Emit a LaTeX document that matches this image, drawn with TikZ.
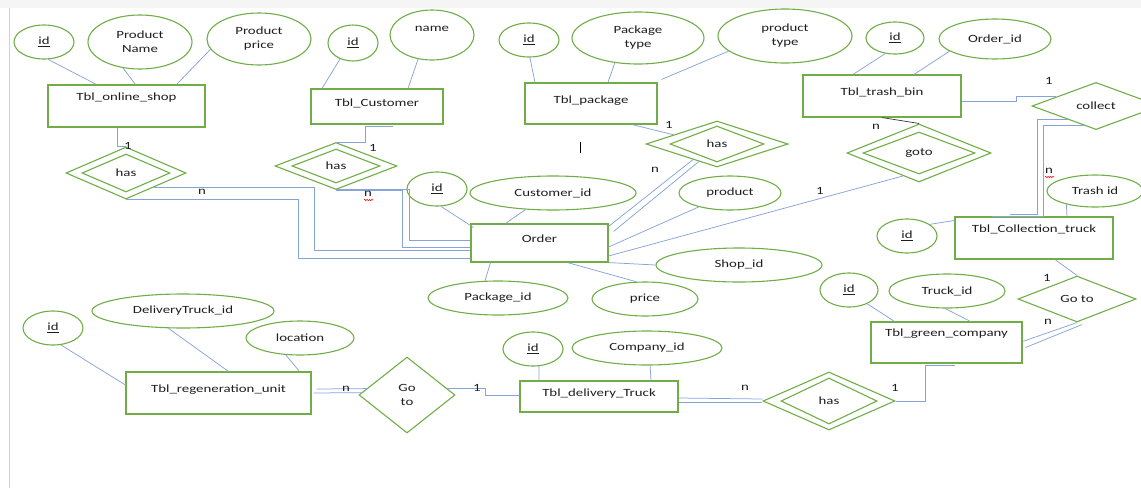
\documentclass[tikz,border=0pt]{standalone}
\usepackage{fontspec}
\setmainfont{Carlito}[FakeStretch=1.35]
\usepackage{tikz}
\usetikzlibrary{shapes.geometric}
\usetikzlibrary{decorations.pathmorphing}

\definecolor{ergreen}{RGB}{112,173,71}
\definecolor{erblue}{RGB}{135,164,218}
\definecolor{ertext}{RGB}{30,30,30}

\tikzset{
  tbl/.style={draw=ergreen, line width=1.1pt, inner sep=0pt, text height=8pt, text depth=9pt},
  tbltop/.style={tbl, text depth=20pt},
  attr/.style={ellipse, draw=ergreen, line width=1.1pt, inner sep=0pt, align=center},
  rel/.style={diamond, draw=ergreen, line width=1.1pt, inner sep=0pt, align=center},
  conn/.style={draw=erblue, line width=0.75pt},
  card/.style={inner sep=0pt},
  typo/.style={red, line width=0.5pt, decorate, decoration={snake, amplitude=0.7pt, segment length=2.4pt}}
}

\begin{document}
\begin{tikzpicture}[x=1pt, y=-1pt, font=\fontsize{11}{14}\selectfont, text=ertext]
                \clip (0,0) rectangle (1141,488);
                % page edge
                \fill[black!4] (0,0) rectangle (1141,8);
                \draw[black!18, line width=1.5pt] (9.5,8) -- (9.5,488);

                % Tbl_online_shop
                \node[tbltop, minimum width=157pt, minimum height=42pt] (shop) at (126.5,106) {Tbl\_online\_shop};
                \node[attr, minimum width=60pt, minimum height=34pt] (shopid) at (44,42) {\underline{id}};
                \node[attr, minimum width=104pt, minimum height=54pt] (pname) at (140,42) {Product\\Name};
                \node[attr, minimum width=104pt, minimum height=52pt] (pprice) at (259,39) {Product\\price};
                \draw[conn] (shopid.-77) -- ([xshift=-30pt]shop.north);
                \draw[conn] (pname.-123) -- ([xshift=9pt]shop.north);
                \draw[conn] (pprice.-168) -- ([xshift=50pt]shop.north);

                % Tbl_Customer
                \node[tbl, minimum width=132pt, minimum height=35pt] (cust) at (377,106.5) {Tbl\_Customer};
                \node[attr, minimum width=50pt, minimum height=36pt] (custid) at (353,43) {\underline{id}};
                \node[attr, minimum width=84pt, minimum height=50pt, text height=8pt, text depth=16pt] (cname) at (432,35) {name};
                \draw[conn] (custid.-129) -- ([xshift=-55pt]cust.north);
                \draw[conn] (cname.-120) -- ([xshift=31pt]cust.north);

                % Tbl_package
                \node[tbl, minimum width=132pt, minimum height=41pt] (pkg) at (591,103.5) {Tbl\_package};
                \node[attr, minimum width=60pt, minimum height=34pt] (pkgid) at (529,40) {\underline{id}};
                \node[attr, minimum width=132pt, minimum height=52pt] (ptype) at (638,38) {Package\\type};
                \node[attr, minimum width=134pt, minimum height=54pt] (prtype) at (785,36) {product\\type};
                \draw[conn] (pkgid.-87) -- ([xshift=-56pt]pkg.north);
                \draw[conn] (ptype.-133) -- ([xshift=17pt]pkg.north);
                \draw[conn] (prtype.-165) -- ([xshift=4pt,yshift=3pt]pkg.north east);
                \draw[black, line width=0.6pt] (580,142) -- (580,153);

                % Tbl_trash_bin
                \node[tbl, minimum width=158pt, minimum height=42pt] (trash) at (882,96) {Tbl\_trash\_bin};
                \node[attr, minimum width=58pt, minimum height=32pt] (trashid) at (895,38) {\underline{id}};
                \node[attr, minimum width=112pt, minimum height=40pt] (orderid) at (995,39) {Order\_id};
                \draw[conn] (trashid.-122) -- ([xshift=-29pt]trash.north);
                \draw[conn] (orderid.-165) -- ([xshift=32pt]trash.north);

                % Order
                \node[tbl, minimum width=137pt, minimum height=38pt] (order) at (539.5,243) {Order};
                \node[attr, minimum width=60pt, minimum height=34pt] (ordid) at (437,189) {\underline{id}};
                \node[attr, minimum width=166pt, minimum height=34pt] (custfk) at (553,193) {Customer\_id};
                \node[attr, minimum width=102pt, minimum height=34pt] (product) at (730,193) {product};
                \node[attr, minimum width=166pt, minimum height=34pt] (shopfk) at (739,265) {Shop\_id};
                \node[attr, minimum width=106pt, minimum height=34pt] (price) at (645,299) {price};
                \node[attr, minimum width=140pt, minimum height=34pt] (pkgfk) at (498,298) {Package\_id};
                \draw[conn] (ordid.-77) -- ([xshift=3pt,yshift=-4pt]order.north west);
                \draw[conn] (custfk.-149) -- ([xshift=-34pt]order.north);
                \draw[conn] (product.-156) -- ([yshift=-4pt]order.east);
                \draw[conn] (shopfk.west) -- (order.south east);
                \draw[conn] (price.117) -- ([xshift=28pt]order.south);
                \draw[conn] (pkgfk.127) -- ([xshift=-49pt]order.south);

                % Tbl_Collection_truck
                \node[tbltop, minimum width=158pt, minimum height=42pt] (ctruck) at (1034,238) {Tbl\_Collection\_truck};
                \node[attr, minimum width=96pt, minimum height=32pt] (trashfk) at (1095,191) {Trash id};
                \node[attr, minimum width=60pt, minimum height=34pt] (ctid) at (907,236) {\underline{id}};
                \draw[conn] (trashfk.-155) -- ([xshift=33pt]ctruck.north);
                \draw[conn] (ctid.27) -- ([yshift=-4pt]ctruck.north west);

                % Tbl_green_company
                \node[tbltop, minimum width=151pt, minimum height=41pt] (green) at (946.5,342.5) {Tbl\_green\_company};
                \node[attr, minimum width=58pt, minimum height=34pt] (gid) at (849,290) {\underline{id}};
                \node[attr, minimum width=116pt, minimum height=34pt] (truckid) at (947,291) {Truck\_id};
                \draw[conn] (gid.-37) -- ([xshift=-52pt]green.north);
                \draw[conn] (truckid.-96) -- ([xshift=24pt]green.north);

                % Tbl_delivery_Truck
                \node[tbl, minimum width=158pt, minimum height=31pt] (dtruck) at (599,396.5) {Tbl\_delivery\_Truck};
                \node[attr, minimum width=60pt, minimum height=34pt] (dtid) at (533,349) {\underline{id}};
                \node[attr, minimum width=150pt, minimum height=34pt] (compid) at (647,348) {Company\_id};
                \draw[conn] (dtid.-71) -- ([xshift=-60pt]dtruck.north);
                \draw[conn] (compid.-80) -- ([xshift=52pt]dtruck.north);

                % Tbl_regeneration_unit
                \node[tbl, minimum width=185pt, minimum height=42pt] (regen) at (218.5,393) {Tbl\_regeneration\_unit};
                \node[attr, minimum width=60pt, minimum height=34pt] (rid) at (53,328) {\underline{id}};
                \node[attr, minimum width=182pt, minimum height=34pt] (dtfk) at (183,311) {DeliveryTruck\_id};
                \node[attr, minimum width=108pt, minimum height=34pt] (loc) at (300,338) {location};
                \draw[conn] (rid.-65) -- ([yshift=8pt]regen.west);
                \draw[conn] (dtfk.-130) -- ([xshift=10pt]regen.north);
                \draw[conn] (loc.-130) -- ([xshift=81pt]regen.north);

                % Relations
                \node[rel, minimum width=120pt, minimum height=52pt] (has1) at (126,173) {};
                \node[rel, minimum width=88pt, minimum height=38pt] (has1in) at (has1) {has};
                \node[rel, minimum width=122pt, minimum height=47pt] (has2) at (336,166) {};
                \node[rel, minimum width=88pt, minimum height=34pt] (has2in) at (has2) {has};
                \node[rel, minimum width=142pt, minimum height=46pt] (has3) at (717,144) {};
                \node[rel, minimum width=94pt, minimum height=36pt] (has3in) at (has3) {has};
                \node[rel, minimum width=144pt, minimum height=58pt] (goto) at (919,153) {};
                \node[rel, minimum width=112pt, minimum height=42pt] (gotoin) at (goto) {goto};
                \node[rel, minimum width=128pt, minimum height=46pt] (collect) at (1096,106) {collect};
                \node[rel, minimum width=118pt, minimum height=46pt] (goto2) at (1077,299) {Go to};
                \node[rel, minimum width=132pt, minimum height=58pt] (has4) at (829,401) {};
                \node[rel, minimum width=96pt, minimum height=46pt] (has4in) at (has4) {has};
                \node[rel, minimum width=96pt, minimum height=76pt] (goto3) at (407,395) {Go\\to};

                % online shop - has - Order
                \draw[conn] ([xshift=-9pt]shop.south) |- (has1.north);
                \node[card] (c1) at (128,146) {1};
                \draw[conn] (has1.-27) -- ++(160,0) |- ([yshift=-7pt]order.west);
                \draw[conn] (has1.south) -- ++(172,0) |- ([yshift=-15pt]order.west);
                \node[card] (c2) at (202,192) {n};

                % Customer - has - Order
                \draw[conn] ([xshift=16pt,yshift=-2pt]cust.south) -- ([xshift=-12pt,yshift=-2pt]cust.south) |- (has2.north);
                \node[card] (c3) at (373,148) {1};
                \draw[conn] ([yshift=1pt]has2.south) -- ++(73,0) |- ([yshift=3pt]order.west);
                \draw[conn] (has2.south) -- ++(66,0) |- ([yshift=-4pt]order.west);
                \node[card] (c4) at (368,194) {n};
                \draw[typo] (364,200) -- (373,200);

                % package - has - Order
                \draw[conn] ([xshift=41pt]pkg.south) -- (has3.168);
                \node[card] (c5) at (669,125) {1};
                \draw[conn] (has3.-147) -- ([yshift=-3pt]order.north east);
                \draw[conn] (has3.-136) -- ([xshift=5pt,yshift=-8pt]order.north east);
                \node[card] (c6) at (655,170) {n};

                % trash bin - goto - Order
                \draw[black!75, line width=0.75pt] (trash.south) -- (goto.north);
                \node[card] (c7) at (876,127) {n};
                \draw[conn] (goto.-125) -- ([yshift=-13pt]order.east);
                \node[card] (c8) at (820,191) {1};

                % trash bin - collect - Collection truck
                \draw[conn] ([yshift=-5pt]trash.east) -- ++(55,0) |- (collect.167);
                \node[card] (c9) at (1049,81) {1};
                \draw[conn] (collect.-154) -| ([xshift=3pt,yshift=2pt]ctruck.north) -- ([xshift=-24pt,yshift=2pt]ctruck.north);
                \draw[conn] (collect.-120) -| ([xshift=9pt]ctruck.north) -- ([xshift=-42pt]ctruck.north);
                \node[card] (c10) at (1049,171) {n};
                \draw[typo] (1045,177) -- (1054,177);

                % Collection truck - Go to - green company
                \draw[conn] ([xshift=21pt]ctruck.south) -- (goto2.north);
                \node[card] (c11) at (1047,278) {1};
                \draw[conn] (goto2.south) -- ([yshift=1pt]green.east);
                \draw[conn] ([xshift=5pt,yshift=-2pt]goto2.south) -- ([xshift=3pt,yshift=-5pt]green.east);
                \node[card] (c12) at (1048,322) {n};

                % green company - has - delivery Truck
                \draw[conn] ([xshift=8pt,yshift=-2pt]green.south) -- ([xshift=-21pt,yshift=-2pt]green.south) |- (has4.east);
                \node[card] (c13) at (895,388) {1};
                \draw[conn] ([yshift=-1.5pt]dtruck.east) -- ([yshift=2pt]has4.west);
                \draw[conn] ([yshift=-5.5pt]dtruck.east) -- ([yshift=-1pt]has4.west);
                \node[card] (c14) at (745,388) {n};

                % delivery Truck - Go to - regeneration unit
                \draw[conn] ([yshift=1.5pt]dtruck.west) -- ++(-34,0) |- (goto3.9);
                \node[card] (c15) at (477,388) {1};
                \draw[conn] ([xshift=5pt,yshift=4pt]regen.east) -- (goto3.171);
                \draw[conn] ([xshift=2pt]regen.east) -- (goto3.177);
                \node[card] (c16) at (346,389) {n};
\end{tikzpicture}
\end{document}
